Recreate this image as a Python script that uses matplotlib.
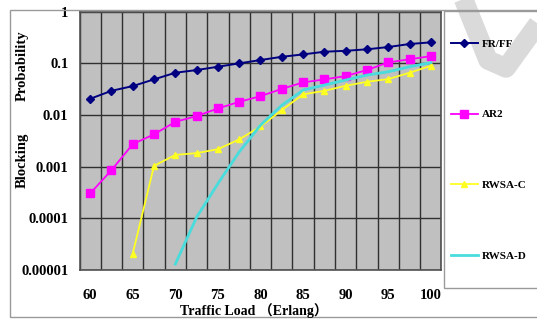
import numpy as np
import matplotlib
matplotlib.use('Agg')
import matplotlib.pyplot as plt
from matplotlib.patches import Rectangle
from matplotlib.lines import Line2D

# Datos
loads = [60, 62.5, 65, 67.5, 70, 72.5, 75, 77.5, 80, 82.5, 85, 87.5, 90, 92.5, 95, 97.5, 100]
fr_ff = [0.0206, 0.0294, 0.0363, 0.049, 0.0658, 0.0742, 0.086, 0.1, 0.116, 0.134,
         0.149, 0.168, 0.175, 0.187, 0.207, 0.237, 0.255]
ar2 = [0.000303, 0.000855, 0.00273, 0.00423, 0.00738, 0.00953, 0.0134, 0.018, 0.0232,
       0.032, 0.0428, 0.049, 0.0568, 0.0742, 0.1045, 0.12, 0.138]
loads_c = [65, 67.5, 70, 72.5, 75, 77.5, 80, 82.5, 85, 87.5, 90, 92.5, 95, 97.5, 100]
rwsa_c = [2.08e-5, 0.00104, 0.00169, 0.00183, 0.00218, 0.00337, 0.006, 0.01245, 0.0251,
          0.0294, 0.0368, 0.044, 0.0496, 0.0658, 0.0898]
loads_d = [70, 72.5, 75, 77.5, 80, 82.5, 85, 87.5, 90, 92.5, 95, 97.5, 100]
rwsa_d = [1.3e-5, 1.05e-4, 4.7e-4, 0.00193, 0.00637, 0.0154, 0.0304, 0.038, 0.0475,
          0.0593, 0.0688, 0.086, 0.103]

x_ticks = [60, 65, 70, 75, 80, 85, 90, 95, 100]
y_ticks = [1e-5, 1e-4, 1e-3, 1e-2, 1e-1, 1]
y_tick_labels = ['0.00001', '0.0001', '0.001', '0.01', '0.1', '1']

W, H = 537, 322
fig = plt.figure(figsize=(W / 100, H / 100), dpi=100)
fuente = ['Liberation Serif', 'Noto Sans CJK SC']

# marca de agua gris
fig.add_artist(Line2D([460 / W, 488 / W, 506 / W, 548 / W],
                      [1.03, 1 - 60 / H, 1 - 68 / H, 1 - 10 / H],
                      transform=fig.transFigure, color='#dadada', lw=14,
                      solid_capstyle='butt', solid_joinstyle='round', zorder=0))

# borde exterior del grafico
fig.add_artist(Rectangle((10 / W, 1 - 317 / H), 600 / W, 307 / H, transform=fig.transFigure,
                         fill=False, edgecolor='#9a9a9a', lw=1.0, zorder=1))

ax = fig.add_axes([79.5 / W, 1 - 270 / H, 362 / W, 258.3 / H])
ax.set_facecolor('#c0c0c0')
ax.set_yscale('log')
ax.set_ylim(1e-5, 1)
ax.set_xlim(58.75, 101.25)

# lineas de division entre categorias
bordes = [58.75 + 2.5 * i for i in range(18)]
ax.set_xticks(bordes, minor=True)
ax.set_xticks(x_ticks)
ax.set_xticklabels([str(v) for v in x_ticks])
ax.set_yticks(y_ticks)
ax.set_yticklabels(y_tick_labels)
ax.yaxis.set_minor_locator(matplotlib.ticker.NullLocator())
ax.grid(True, which='minor', axis='x', color='#303030', lw=1.0)
ax.grid(True, which='major', axis='y', color='#303030', lw=1.0)
ax.tick_params(which='both', length=0)
ax.tick_params(axis='x', pad=14)
ax.tick_params(axis='y', pad=8)
for lab in ax.get_xticklabels() + ax.get_yticklabels():
    lab.set_fontfamily(fuente)
    lab.set_fontweight('bold')
    lab.set_fontsize(10.5)
for s in ax.spines.values():
    s.set_color('#505050')
    s.set_linewidth(1.2)

l1, = ax.plot(loads, fr_ff, color='#000080', marker='D', ms=4.5, lw=1.4, label='FR/FF')
l2, = ax.plot(loads, ar2, color='#ff00ff', marker='s', ms=6, lw=1.3, label='AR2')
l3, = ax.plot(loads_c, rwsa_c, color='#ffff22', marker='^', ms=5, lw=1.3, label='RWSA-C')
l4, = ax.plot(loads_d, rwsa_d, color='#48dcdc', lw=2.0, label='RWSA-D')

# caja de la leyenda
fig.add_artist(Rectangle((444 / W, 1 - 288 / H), 120 / W, 277 / H, transform=fig.transFigure,
                         fill=False, edgecolor='#9a9a9a', lw=1.0))
fig.legend(handles=[l1, l2, l3, l4], loc='upper left',
           bbox_to_anchor=(451 / W, 1 - 39 / H), bbox_transform=fig.transFigure,
           frameon=False, borderpad=0, borderaxespad=0, handlelength=2.4,
           handletextpad=0.4, labelspacing=5.48, numpoints=1,
           prop={'family': fuente, 'weight': 'bold', 'size': 8})

fig.text(22 / W, 1 - 160 / H, 'Blocking', rotation=90, ha='center', va='center',
         family=fuente, weight='bold', fontsize=10.5)
fig.text(22 / W, 1 - 66 / H, 'Probability', rotation=90, ha='center', va='center',
         family=fuente, weight='bold', fontsize=10.5)
fig.text(254 / W, 1 - 311 / H, 'Traffic Load （Erlang）', ha='center', va='center',
         family=fuente, weight='bold', fontsize=10)

fig.savefig('out.png', dpi=100)
